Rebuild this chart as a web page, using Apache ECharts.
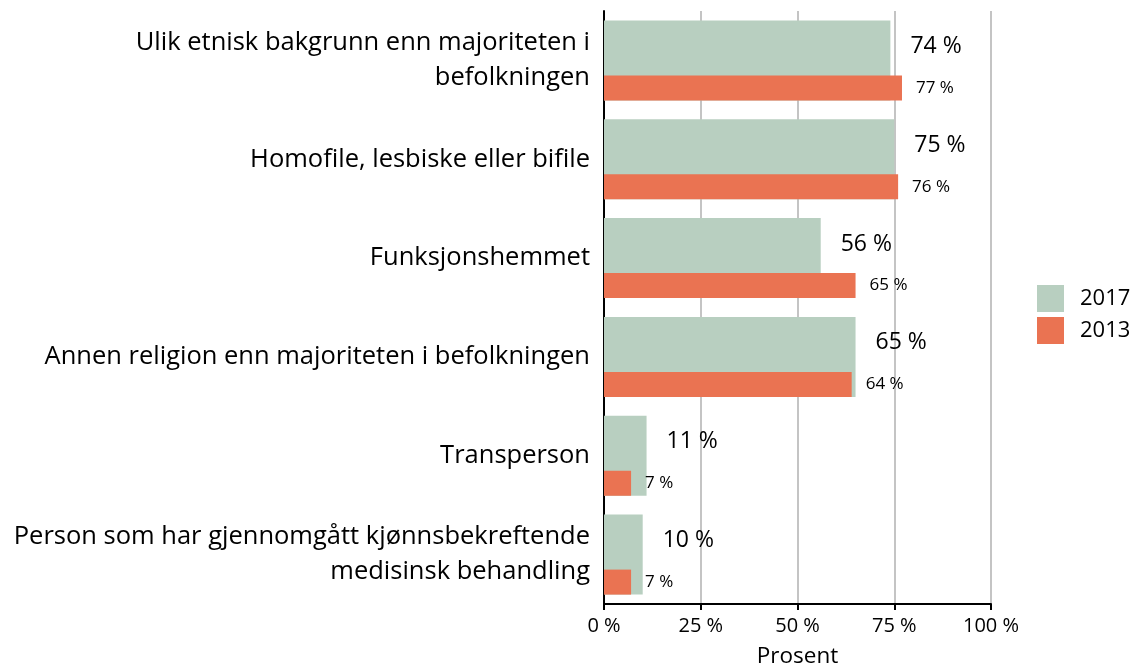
<!DOCTYPE html>
<html>
<head>
<meta charset="utf-8">
<script src="https://cdn.jsdelivr.net/npm/echarts@6/dist/echarts.min.js"></script>
<style>
  html, body { margin: 0; padding: 0; background: #fff; }
  #chart { width: 1139px; height: 666px; }
</style>
</head>
<body>
<div id="chart"></div>
<script>
const categories = [
  'Ulik etnisk bakgrunn enn majoriteten i\nbefolkningen',
  'Homofile, lesbiske eller bifile',
  'Funksjonshemmet',
  'Annen religion enn majoriteten i befolkningen',
  'Transperson',
  'Person som har gjennomgått kjønnsbekreftende\nmedisinsk behandling'
]
const values2017 = [74, 75, 56, 65, 11, 10]
const values2013 = [77, 76, 65, 64, 7, 7]
const xTicks = [0, 25, 50, 75, 100]

const font = 'Open Sans'
const chart = echarts.init(document.getElementById('chart'))

chart.setOption({
  animation: false,
  textStyle: { fontFamily: font, color: '#000' },
  legend: {
    orient: 'vertical',
    left: 1037,
    top: 285,
    padding: 0,
    itemWidth: 27,
    itemHeight: 27,
    itemGap: 5,
    icon: 'rect',
    textStyle: { fontSize: 22, fontFamily: font, color: '#000', padding: [0, 0, 0, 11] },
    data: ['2017', '2013']
  },
  grid: {
    left: 604,
    right: 148,
    top: 11,
    bottom: 62,
    outerBoundsMode: 'none'
  },
  xAxis: {
    type: 'value',
    min: xTicks[0],
    max: xTicks[xTicks.length - 1],
    interval: 25,
    name: 'Prosent',
    nameLocation: 'middle',
    nameGap: 41,
    nameTextStyle: { fontSize: 22.5, fontFamily: font, color: '#000' },
    axisLine: { show: true, lineStyle: { color: '#000', width: 2 } },
    axisTick: { show: true, length: 6, lineStyle: { color: '#000', width: 2 } },
    axisLabel: {
      fontSize: 20,
      color: '#000',
      margin: 12,
      formatter: '{value} %'
    },
    splitLine: { show: true, lineStyle: { color: '#c4c4c4', width: 2 } }
  },
  yAxis: {
    type: 'category',
    inverse: true,
    data: categories,
    axisLine: { show: true, lineStyle: { color: '#000', width: 2 } },
    axisTick: { show: false },
    axisLabel: {
      fontSize: 25.5,
      color: '#000',
      margin: 14,
      align: 'right',
      lineHeight: 35
    }
  },
  series: [
    {
      name: '2017',
      type: 'bar',
      data: values2017,
      barWidth: 80,
      barGap: '-31.25%',
      itemStyle: { color: '#b8cfc0' },
      label: {
        show: true,
        position: 'right',
        distance: 20,
        offset: [0, -14],
        fontSize: 23,
        color: '#000',
        formatter: '{c} %'
      }
    },
    {
      name: '2013',
      type: 'bar',
      data: values2013,
      barWidth: 25,
      itemStyle: { color: '#ea7352' },
      label: {
        show: true,
        position: 'right',
        distance: 14,
        fontSize: 17,
        color: '#000',
        formatter: '{c} %'
      }
    }
  ]
})
</script>
</body>
</html>
